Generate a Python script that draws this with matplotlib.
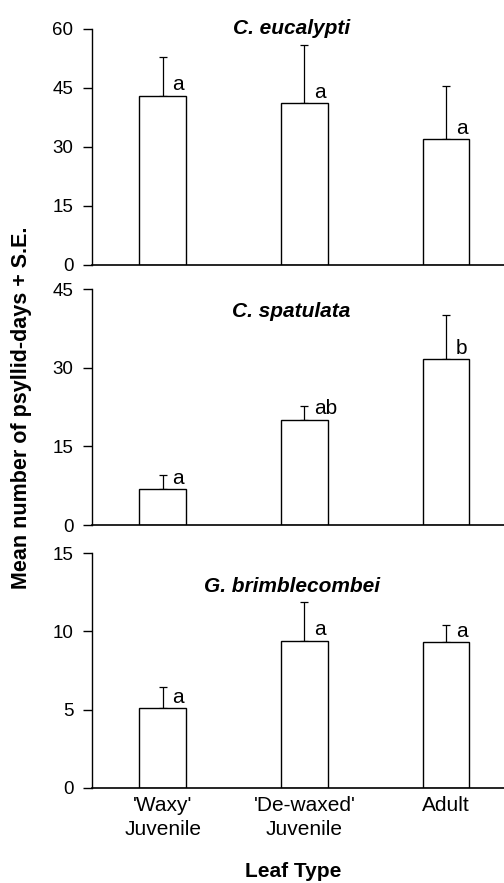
import matplotlib
matplotlib.use("Agg")
import matplotlib.pyplot as plt
import numpy as np

plt.rcParams['font.family'] = ['Liberation Sans', 'DejaVu Sans']

categories = ["'Waxy'\nJuvenile", "'De-waxed'\nJuvenile", "Adult"]
species = ["C. eucalypti", "C. spatulata", "G. brimblecombei"]

means_eucalypti = [43.0, 41.1, 32.0]
se_eucalypti = [10.0, 14.8, 13.5]
letters_eucalypti = ["a", "a", "a"]

means_spatulata = [6.8, 20.05, 31.6]
se_spatulata = [2.75, 2.6, 8.35]
letters_spatulata = ["a", "ab", "b"]

means_brimble = [5.1, 9.41, 9.31]
se_brimble = [1.32, 2.47, 1.1]
letters_brimble = ["a", "a", "a"]

ymax = [60, 45, 15]
yticks = [[0, 15, 30, 45, 60], [0, 15, 30, 45], [0, 5, 10, 15]]

panels = [
    (means_eucalypti, se_eucalypti, letters_eucalypti),
    (means_spatulata, se_spatulata, letters_spatulata),
    (means_brimble, se_brimble, letters_brimble),
]
title_y_px = [29, 311.7, 587]

W, H = 504, 883
fig = plt.figure(figsize=(W / 100, H / 100), dpi=100)

left_px, right_px = 92, 504
tops = [29, 289, 553]
bots = [265, 525, 788]

x = np.arange(len(categories))
for i, (m, se, let) in enumerate(panels):
    ax = fig.add_axes([left_px / W, 1 - bots[i] / H,
                       (right_px - left_px) / W, (bots[i] - tops[i]) / H])
    ax.bar(x, m, width=0.33, color='white', edgecolor='black', linewidth=1.0, zorder=2)
    ax.errorbar(x, m, yerr=[np.zeros(len(m)), se], fmt='none', ecolor='black',
                elinewidth=0.9, capsize=3, capthick=0.9, zorder=1)
    for xi, mi, li in zip(x, m, let):
        ax.annotate(li, (xi, mi), xytext=(7, 1), textcoords='offset points',
                    ha='left', va='bottom', fontsize=15)
    ax.set_xlim(-0.5, 2.41)
    ax.set_ylim(0, ymax[i])
    ax.set_yticks(yticks[i])
    ax.tick_params(axis='y', direction='out', length=6.5, width=1, labelsize=13.5, pad=7)
    ax.spines['top'].set_visible(False)
    ax.spines['right'].set_visible(False)
    ax.spines['left'].set_linewidth(1)
    ax.spines['bottom'].set_linewidth(1.2)
    fig.text(291.5 / W, 1 - title_y_px[i] / H, species[i], ha='center', va='center',
             fontsize=15, fontweight='bold', fontstyle='italic')
    if i < 2:
        ax.set_xticks([])
    else:
        ax.set_xticks(x)
        ax.set_xticklabels(categories, fontsize=15, linespacing=1.3)
        ax.tick_params(axis='x', length=0, pad=6)

fig.text(293 / W, 1 - 871.7 / H, 'Leaf Type', ha='center', va='center',
         fontsize=15, fontweight='bold')
fig.text(21.7 / W, 1 - 408 / H, 'Mean number of psyllid-days + S.E.', rotation=90,
         ha='center', va='center', fontsize=15.5, fontweight='bold')

fig.savefig('out.png', dpi=100)
